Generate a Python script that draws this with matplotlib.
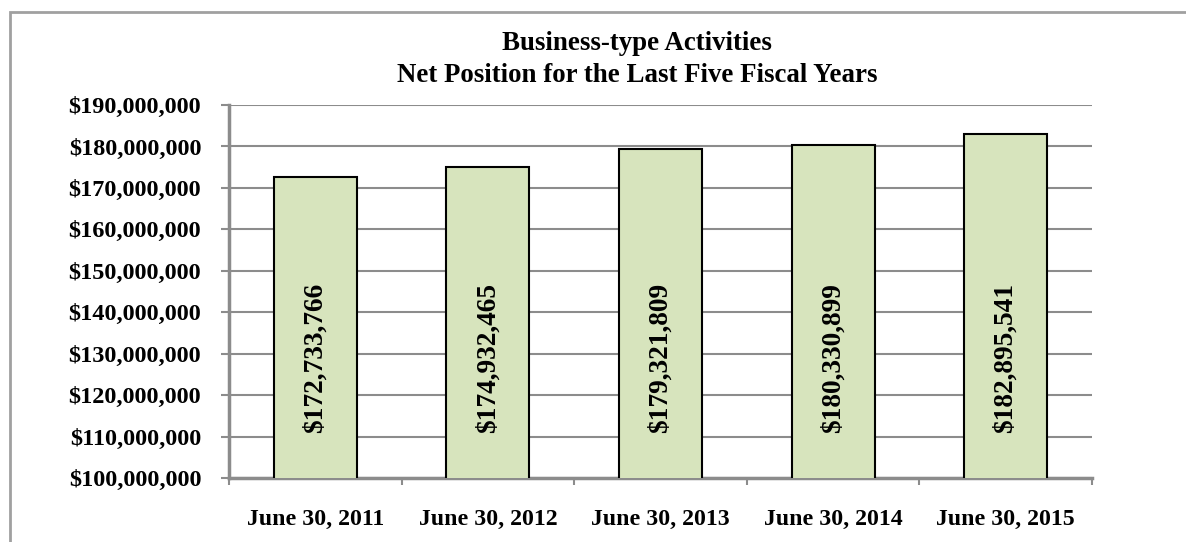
import matplotlib

matplotlib.use("Agg")
import matplotlib.pyplot as plt
from matplotlib.patches import Rectangle
from matplotlib.ticker import FuncFormatter, MultipleLocator
import numpy as np

categories = ["June 30, 2011", "June 30, 2012", "June 30, 2013", "June 30, 2014", "June 30, 2015"]
net_position = [172733766, 174932465, 179321809, 180330899, 182895541]
title_lines = ["Business-type Activities", "Net Position for the Last Five Fiscal Years"]

plt.rcParams["font.family"] = ["Liberation Serif", "DejaVu Serif"]
plt.rcParams["font.weight"] = "bold"

W, H = 1186, 542
fig = plt.figure(figsize=(W / 100, H / 100), dpi=100)
fig.patch.set_facecolor("white")

# outer chart border (clipped at right/bottom like the source)
fig.patches.append(Rectangle((10 / W, -0.05), 1.1, 1 - 12 / H + 0.05, transform=fig.transFigure,
                             fill=False, edgecolor="#a0a0a0", lw=2))

ax = fig.add_axes([229 / W, 1 - 478 / H, (1092 - 229) / W, (478 - 105) / H])
x = np.arange(len(categories))
ax.bar(x, net_position, width=0.48, color="#d7e4bd", edgecolor="black", lw=1.5, zorder=3)

ax.set_ylim(100e6, 190e6)
ax.set_xlim(-0.5, len(categories) - 0.5)
ax.yaxis.set_major_locator(MultipleLocator(10e6))
ax.yaxis.set_major_formatter(FuncFormatter(lambda v, p: f"${v:,.0f}"))
ax.grid(axis="y", color="#8c8c8c", lw=1.5, zorder=0)

label_y = 129e6
for xi, v in zip(x, net_position):
    ax.text(xi, label_y, f"${v:,.0f}", rotation=90, ha="center", va="center",
            fontsize=19.7, fontweight="bold", zorder=4)

ax.set_xticks(x)
ax.set_xticklabels(categories)
ax.set_xticks(np.arange(-0.5, len(categories)), minor=True)
ax.tick_params(axis="x", which="major", length=0, pad=22, labelsize=17.2)
ax.tick_params(axis="x", which="minor", length=5, width=1.5, color="#8c8c8c")
ax.tick_params(axis="y", length=6, width=1.5, color="#8c8c8c", pad=14, labelsize=17.5)

for s in ["top", "right"]:
    ax.spines[s].set_visible(False)
for s in ["left", "bottom"]:
    ax.spines[s].set_color("#8c8c8c")
    ax.spines[s].set_linewidth(2.5)

fig.text(637 / W, 1 - 43 / H, title_lines[0], ha="center", va="center", fontsize=19.4, fontweight="bold")
fig.text(637 / W, 1 - 75 / H, title_lines[1], ha="center", va="center", fontsize=19.4, fontweight="bold")

fig.savefig("out.png", dpi=100, facecolor=fig.get_facecolor())
